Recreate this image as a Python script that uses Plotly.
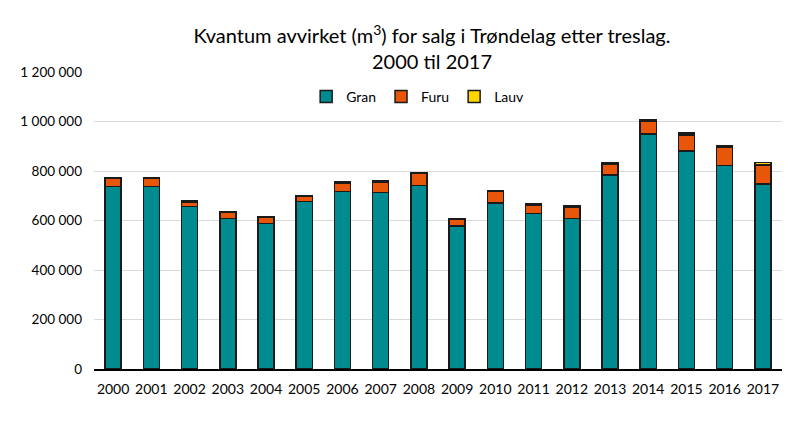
import plotly.graph_objects as go

years = [str(y) for y in range(2000, 2018)]
gran = [738000, 738000, 657000, 608000, 588000, 677000, 717000, 714000, 742000,
        577000, 670000, 628000, 609000, 783000, 950000, 880000, 823000, 748000]
furu = [32000, 32000, 18000, 25000, 25000, 22000, 35000, 42000, 47000,
        27000, 49000, 35000, 46000, 45000, 50000, 66000, 73000, 76000]
lauv = [3000, 3000, 3000, 3000, 3000, 3000, 3000, 3000, 3000,
        3000, 3000, 3000, 3000, 7000, 7000, 8000, 8000, 10000]
y_ticks = [0, 200000, 400000, 600000, 800000, 1000000, 1200000]

font = "Lato, 'Open Sans', sans-serif"
line = dict(color="#1a1a1a", width=1.5)

W, H = 792, 415
PL, PR, PT, PB = 81, 18, 64, 54
PW, PH = W - PL - PR, H - PT - PB

fig = go.Figure()
fig.add_bar(x=years, y=gran, name="Gran", marker=dict(color="#008B90", line=line))
fig.add_bar(x=years, y=furu, name="Furu", marker=dict(color="#E8560A", line=line))
fig.add_bar(x=years, y=lauv, name="Lauv", marker=dict(color="#FFD500", line=line))

fig.update_layout(
    barmode="stack",
    bargap=0.58,
    width=W, height=H,
    margin=dict(l=PL, r=PR, t=PT, b=PB),
    paper_bgcolor="white", plot_bgcolor="white",
    separators=", ",
    font=dict(family=font, size=13, color="#000000"),
    title=dict(text="Kvantum avvirket (m<sup>3</sup>) for salg i Trøndelag etter treslag.<br>2000 til 2017",
               x=(432 - 8) / W, xanchor="center", y=1 - 35 / H, yanchor="top",
               font=dict(family=font, size=20, color="#000000")),
    legend=dict(orientation="h", x=(415 - 89) / PW, xanchor="center",
                y=1 - 25 / PH, yanchor="middle",
                font=dict(family=font, size=14), bgcolor="rgba(0,0,0,0)",
                itemwidth=30, traceorder="normal"),
    showlegend=True,
)
fig.update_xaxes(showline=True, linecolor="#000000", linewidth=1.5, ticks="",
                 tickfont=dict(size=14), showgrid=False, ticklabelstandoff=6)
fig.update_yaxes(range=[0, 1200000], tickvals=y_ticks, tickformat=",d",
                 showgrid=True, gridcolor="#d9d9d9", gridwidth=1, zeroline=False,
                 showline=False, ticks="", tickfont=dict(size=13.5), ticklabelstandoff=11)

fig.write_html("out.html")
